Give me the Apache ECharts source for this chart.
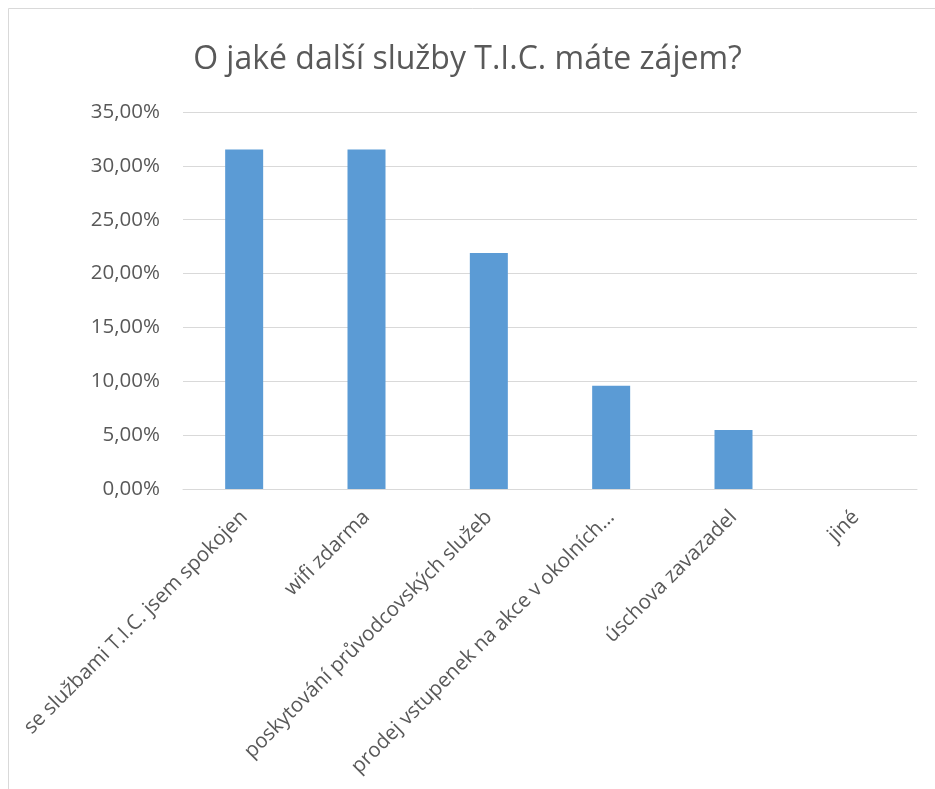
<!DOCTYPE html>
<html>
<head>
<meta charset="utf-8">
<script src="https://cdn.jsdelivr.net/npm/echarts@6/dist/echarts.min.js"></script>
<style>
  html, body { margin: 0; padding: 0; background: #fff; }
  #chart { width: 935px; height: 789px; }
</style>
</head>
<body>
<div id="chart"></div>
<script>
var categories = [
    'se službami T.I.C. jsem spokojen',
    'wifi zdarma',
    'poskytování průvodcovských služeb',
    'prodej vstupenek na akce v okolních…',
    'úschova zavazadel',
    'jiné'
];
var values = [31.51, 31.51, 21.92, 9.59, 5.48, 0];

var myChart = echarts.init(document.getElementById('chart'));

var option = {
    backgroundColor: '#fff',
    textStyle: { fontFamily: 'Open Sans' },
    title: {
        text: 'O jaké další služby T.I.C. máte zájem?',
        left: 'center',
        top: 39,
        textStyle: { fontSize: 32, fontWeight: 'normal', color: '#595959', fontFamily: 'Open Sans' }
    },
    graphic: [{
        type: 'rect',
        shape: { x: 8.5, y: 8.5, width: 940, height: 800 },
        style: { fill: 'none', stroke: '#d9d9d9', lineWidth: 1 },
        silent: true
    }],
    grid: { left: 183, right: 18, top: 112, bottom: 300 },
    xAxis: {
        type: 'category',
        data: categories,
        axisLine: { lineStyle: { color: '#d9d9d9', width: 1 } },
        axisTick: { show: false },
        axisLabel: { rotate: 45, color: '#595959', fontSize: 20.5, margin: 25, interval: 0 }
    },
    yAxis: {
        type: 'value',
        min: 0,
        max: 35,
        interval: 5,
        axisLine: { show: false },
        axisTick: { show: false },
        splitLine: { lineStyle: { color: '#d9d9d9', width: 1 } },
        axisLabel: {
            color: '#595959',
            fontSize: 20.5,
            margin: 23,
            formatter: function (v) { return v.toFixed(2).replace('.', ',') + '%'; }
        }
    },
    series: [{
        type: 'bar',
        data: values,
        barWidth: 38,
        itemStyle: { color: '#5b9bd5' },
        animation: false
    }]
};

myChart.setOption(option);
</script>
</body>
</html>
